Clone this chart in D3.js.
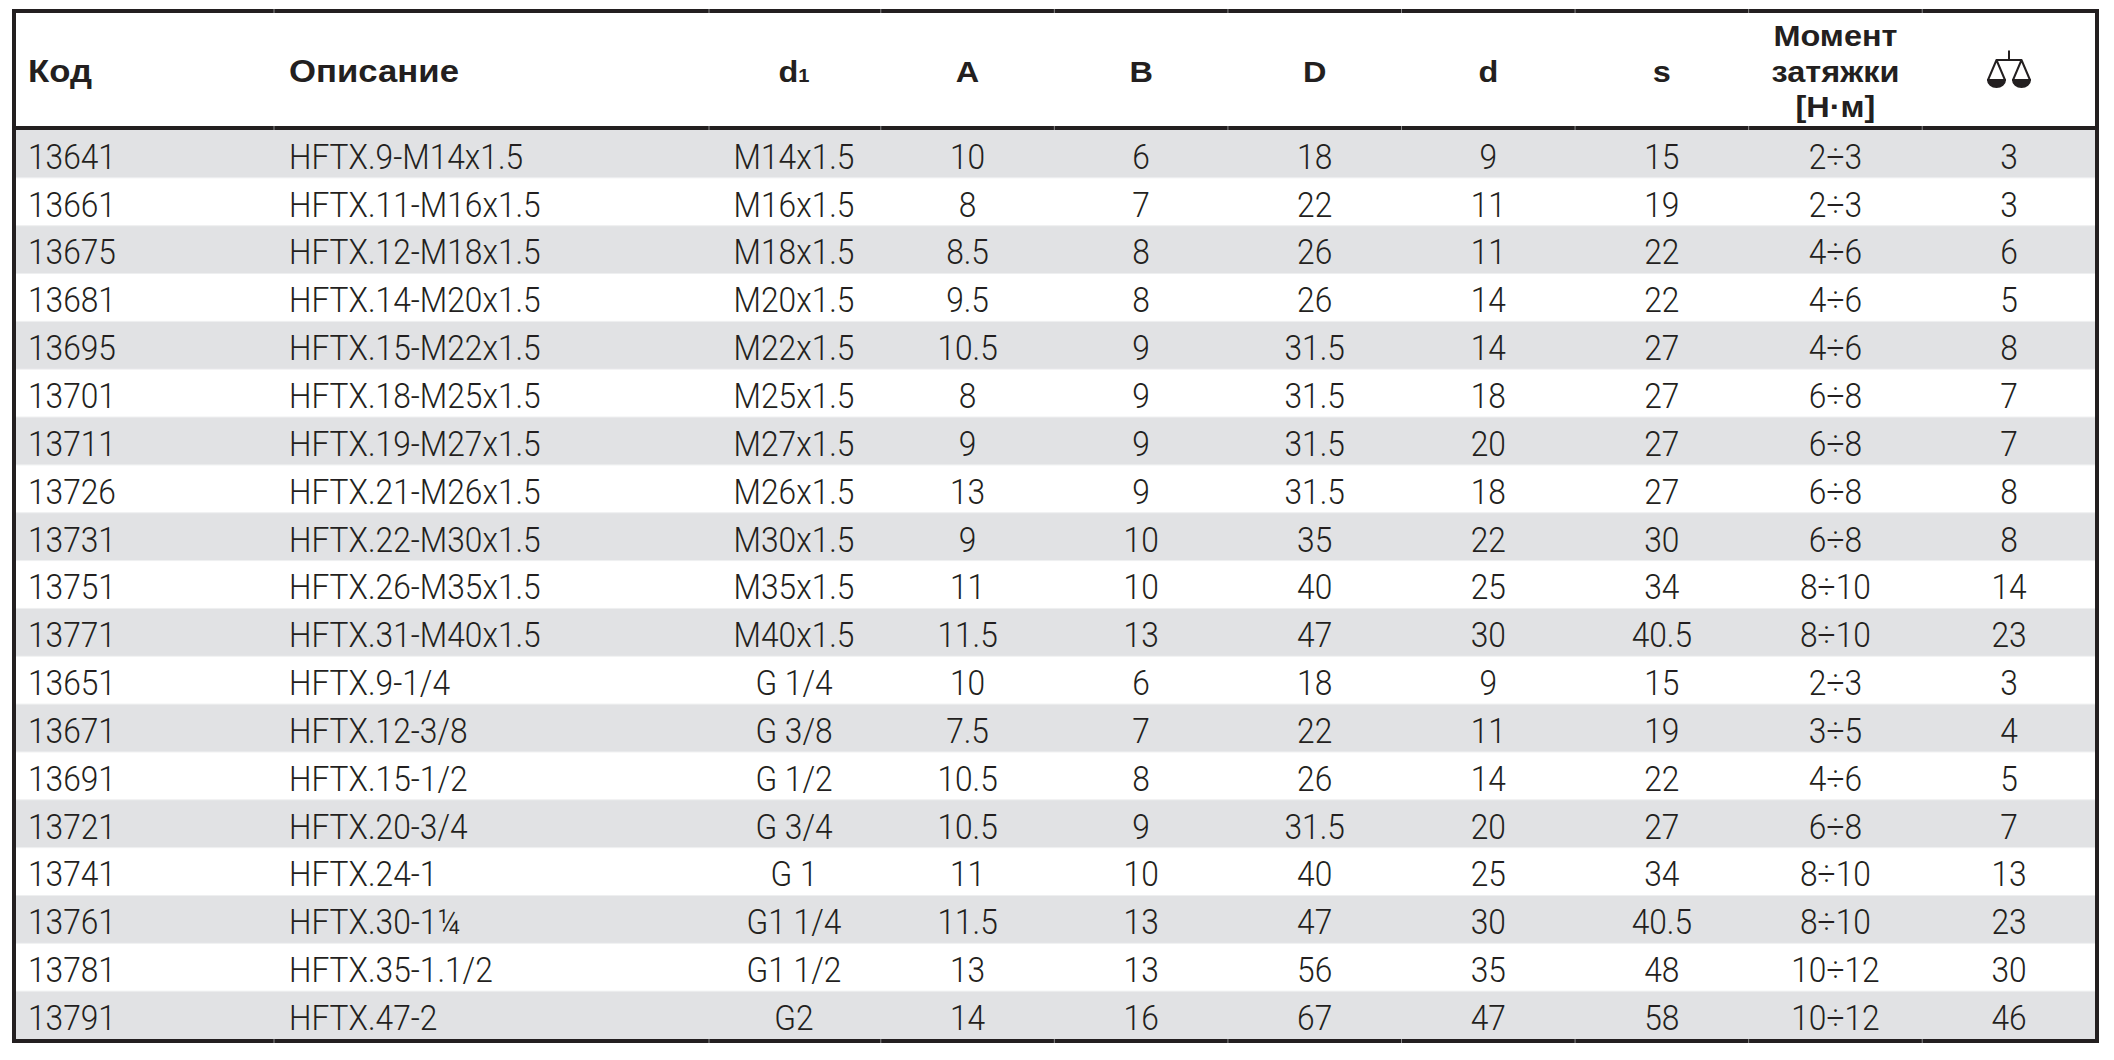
<!DOCTYPE html>
<html>
<head>
<meta charset="utf-8">
<script src="https://cdn.jsdelivr.net/npm/d3@7"></script>
<style>
  body { margin: 0; background: #fff; }
</style>
</head>
<body>
<div id="tabla"></div>
<script>
let codes = [13641,13661,13675,13681,13695,13701,13711,13726,13731,13751,13771,13651,13671,13691,13721,13741,13761,13781,13791];
let descr = ["HFTX.9-M14x1.5","HFTX.11-M16x1.5","HFTX.12-M18x1.5","HFTX.14-M20x1.5","HFTX.15-M22x1.5","HFTX.18-M25x1.5","HFTX.19-M27x1.5","HFTX.21-M26x1.5","HFTX.22-M30x1.5","HFTX.26-M35x1.5","HFTX.31-M40x1.5","HFTX.9-1/4","HFTX.12-3/8","HFTX.15-1/2","HFTX.20-3/4","HFTX.24-1","HFTX.30-1¼","HFTX.35-1.1/2","HFTX.47-2"];
let d1 = ["M14x1.5","M16x1.5","M18x1.5","M20x1.5","M22x1.5","M25x1.5","M27x1.5","M26x1.5","M30x1.5","M35x1.5","M40x1.5","G 1/4","G 3/8","G 1/2","G 3/4","G 1","G1 1/4","G1 1/2","G2"];
let colA = [10,8,8.5,9.5,10.5,8,9,13,9,11,11.5,10,7.5,10.5,10.5,11,11.5,13,14];
let colB = [6,7,8,8,9,9,9,9,10,10,13,6,7,8,9,10,13,13,16];
let colD = [18,22,26,26,31.5,31.5,31.5,31.5,35,40,47,18,22,26,31.5,40,47,56,67];
let cold = [9,11,11,14,14,18,20,18,22,25,30,9,11,14,20,25,30,35,47];
let cols = [15,19,22,22,27,27,27,27,30,34,40.5,15,19,22,27,34,40.5,48,58];
let torque = ["2÷3","2÷3","4÷6","4÷6","4÷6","6÷8","6÷8","6÷8","6÷8","8÷10","8÷10","2÷3","3÷5","4÷6","6÷8","8÷10","8÷10","10÷12","10÷12"];
let weight = [3,3,6,5,8,7,7,8,8,14,23,3,4,5,7,13,23,30,46];

// columnas centradas (de d1 hasta el peso)
let centerKeys = ["d1","A","B","D","d","s","torque","weight"];
let centerData = [d1,colA,colB,colD,cold,cols,torque,weight];
let headers = {A:"A",B:"B",D:"D",d:"d",s:"s"};
let torqueHeader = ["Момент","затяжки","[Н·м]"];

let W = 2114, H = 1060;
let ink = "#231f20";
let bLeft = 14, bRight = 2097, bTop = 11, headBottom = 128, bBottom = 1041;

let svg = d3.select("#tabla").append("svg")
    .attr("width",W)
    .attr("height",H);

let scy = d3.scaleBand(d3.range(codes.length),[headBottom + 2, bBottom - 2]);
let scx = d3.scalePoint(centerKeys,[794,2009]);
let xCode = 28, xDesc = 289;

// filas alternadas
svg.selectAll(".fila")
    .data(d3.range(codes.length))
    .join("rect")
    .attr("class","fila")
    .attr("x",bLeft)
    .attr("width",bRight - bLeft)
    .attr("y",d => scy(d))
    .attr("height",scy.bandwidth())
    .attr("fill",d => d % 2 === 0 ? "#e1e2e4" : "#ffffff");

svg.selectAll(".sep")
    .data(d3.range(1,codes.length))
    .join("line")
    .attr("class","sep")
    .attr("x1",bLeft)
    .attr("x2",bRight)
    .attr("y1",d => scy(d))
    .attr("y2",d => scy(d))
    .attr("stroke","#eeeff0")
    .attr("stroke-width",1);

// bordes
svg.append("rect")
    .attr("x",bLeft)
    .attr("y",bTop)
    .attr("width",bRight - bLeft)
    .attr("height",bBottom - bTop)
    .attr("fill","none")
    .attr("stroke",ink)
    .attr("stroke-width",4);

svg.append("line")
    .attr("x1",bLeft)
    .attr("x2",bRight)
    .attr("y1",headBottom)
    .attr("y2",headBottom)
    .attr("stroke",ink)
    .attr("stroke-width",4);

// marcas tenues de las columnas sobre los bordes
let step = scx.step();
let bounds = [274, 709].concat(centerKeys.slice(1).map(k => scx(k) - step/2));
[bTop, headBottom, bBottom].forEach(yy => {
    svg.append("g").selectAll("line")
        .data(bounds)
        .join("line")
        .attr("x1",d => d)
        .attr("x2",d => d)
        .attr("y1",yy - 2)
        .attr("y2",yy + 2)
        .attr("stroke","#8a8a8a")
        .attr("stroke-width",1);
});

// texto del cuerpo
let bodyFont = "Roboto, 'Open Sans', sans-serif";
let bodySize = 34.5, bodyK = 0.92, baseOff = 38.8;

function bodyText(g, data, x, anchor) {
    g.selectAll("text")
        .data(data)
        .join("text")
        .attr("transform",(d,i) => `translate(${x},${scy(i) + baseOff}) scale(${bodyK},1)`)
        .attr("text-anchor",anchor)
        .attr("font-family",bodyFont)
        .attr("font-weight",300)
        .attr("font-size",bodySize)
        .attr("fill",ink)
        .text(d => d);
}

bodyText(svg.append("g"), codes, xCode, "start");
bodyText(svg.append("g"), descr, xDesc, "start");
centerKeys.forEach((k,j) => bodyText(svg.append("g"), centerData[j], scx(k), "middle"));

// encabezados
let headFont = "'Liberation Sans', Arial, sans-serif";
let headSize = 29, headK = 1.12, headBase = 81.5;

function headText(x, y, anchor, size) {
    return svg.append("text")
        .attr("transform",`translate(${x},${y}) scale(${headK},1)`)
        .attr("text-anchor",anchor)
        .attr("font-family",headFont)
        .attr("font-weight",700)
        .attr("font-size",size || headSize)
        .attr("fill",ink);
}

headText(xCode, headBase, "start", 31).text("Код");
headText(xDesc, headBase, "start", 31).text("Описание");

let hd1 = headText(scx("d1"), headBase, "middle");
hd1.append("tspan").text("d");
hd1.append("tspan").attr("font-size",headSize*0.62).text("1");

Object.keys(headers).forEach(k => headText(scx(k), headBase, "middle").text(headers[k]));

torqueHeader.forEach((t,i) => headText(scx("torque"), headBase + (i - 1)*35.3, "middle").text(t));

// icono de balanza
let bx = scx("weight");
let balanza = svg.append("g")
    .attr("transform",`translate(${bx},0)`)
    .attr("stroke",ink)
    .attr("stroke-width",2)
    .attr("fill","none");

balanza.append("path").attr("d","M0,50.5 V60 M-12.5,60 H12.5");
[-12.5, 12.5].forEach(cx => {
    let p = balanza.append("g").attr("transform",`translate(${cx},60)`);
    p.append("path").attr("d","M0,0 L-8.5,20 H8.5 Z").attr("stroke-linejoin","round");
    p.append("path")
        .attr("d","M-8.5,20 A8.5,7 0 0 0 8.5,20 Z")
        .attr("fill",ink);
});
</script>
</body>
</html>
